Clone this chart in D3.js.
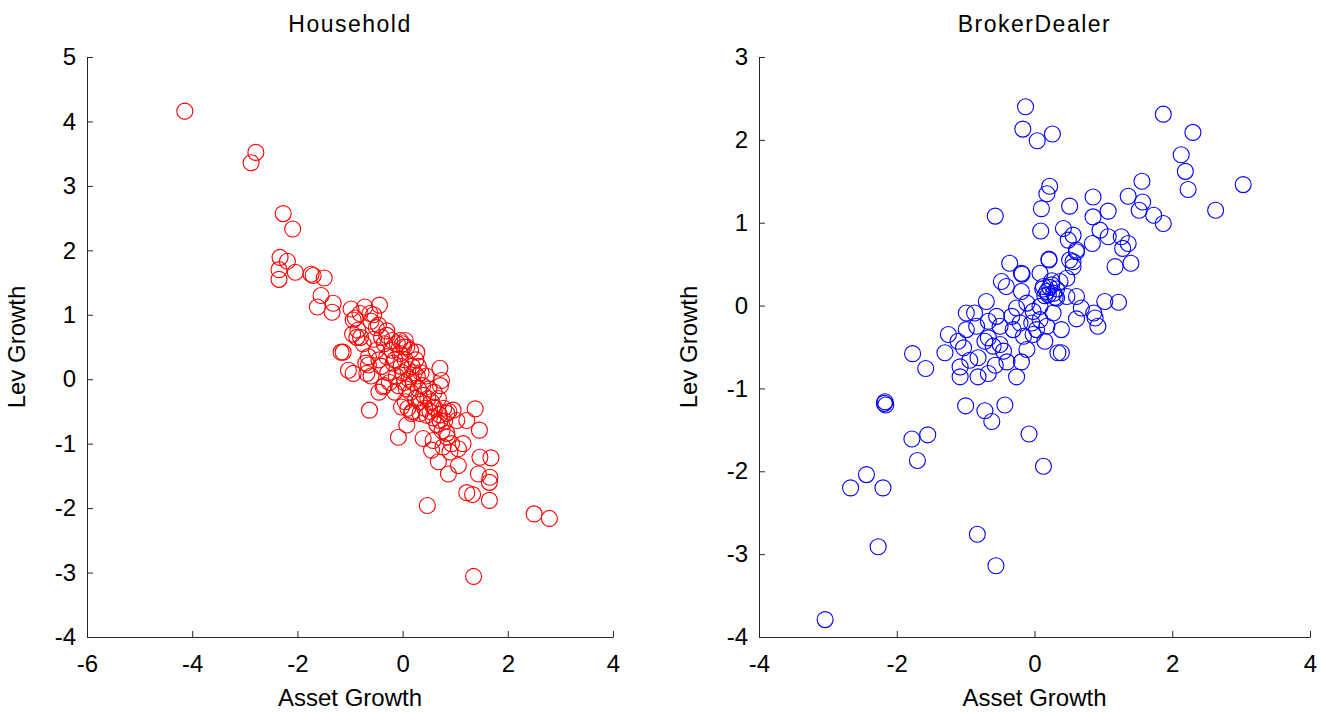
<!DOCTYPE html>
<html>
<head>
<meta charset="utf-8">
<script src="https://d3js.org/d3.v7.min.js"></script>
<style>
  body { margin: 0; background: #fff; }
  text { font-family: Arial, "Liberation Sans", sans-serif; fill: #000; }
  .domain, .tick line { stroke: #262626; }
</style>
</head>
<body>
<div id="chart"></div>
<script>
// Household: asset growth vs leverage growth
var hhAsset = [-4.14, -2.79, -2.88, -2.27, -2.09, -2.33, -2.19, -2.35, -2.04, -2.35,
  -1.74, -1.70, -1.49, -1.55, -1.62, -1.32, -1.34, -0.98, -0.72, -0.94,
  -0.81, -0.85, -0.87, -0.44, -0.62, -0.46, -1.13, -1.03, -0.94, -0.68,
  -0.65, -0.63, -0.08, -0.37, -0.30, -0.05, 0.08, 0.27, 0.71, 0.74,
  1.38, 1.22, 1.46, 0.39, 1.47, 1.68, 0.68, 1.06, 0.87, 1.44,
  1.65, 1.22, 1.33, 1.65, 0.47, 2.50, 2.79, 1.35, 0.55, 0.90,
  1.06, 1.15, 0.93, 0.77, 0.58, 0.84, 0.08, 0.33, 0.17, 0.58,
  0.84, 1.03, -0.02, 0.46, 0.71, 0.96, -0.55, -0.50, -0.45, -0.40,
  -0.35, -0.30, -0.28, -0.25, -0.20, -0.18, -0.15, -0.12, -0.10, -0.08,
  -0.05, -0.03, 0.00, 0.02, 0.03, 0.05, 0.07, 0.10, 0.12, 0.15,
  0.18, 0.20, 0.22, 0.25, 0.28, 0.30, 0.32, 0.35, 0.38, 0.40,
  0.42, 0.45, 0.48, 0.50, 0.52, 0.55, 0.58, 0.60, 0.62, 0.65,
  0.68, 0.70, 0.72, 0.75, 0.78, 0.80, 0.85, 0.88, -0.65, -0.70,
  -0.60, -0.75, -0.80, -0.90, -0.95, -0.60, -0.55, -0.50, -0.40, -0.30,
  -0.20, 0.00, 0.05, 0.25, 0.30, 0.15, -0.15, 0.05, 0.18, 0.10,
  -0.35, -0.45, -1.17, 1.66];
var hhLev = [4.16, 3.52, 3.36, 2.57, 2.33, 1.89, 1.83, 1.70, 1.66, 1.55,
  1.63, 1.61, 1.57, 1.30, 1.12, 1.18, 1.04, 1.09, 1.12, 0.92,
  1.02, 0.76, 0.65, 1.15, 1.02, 0.84, 0.42, 0.14, 0.09, 0.09,
  0.22, -0.48, -0.90, -0.12, 0.68, 0.60, 0.50, 0.42, 0.17, -0.02,
  -0.46, -0.64, -0.79, -0.92, -1.21, -1.22, -1.28, -1.34, -1.47, -1.47,
  -1.60, -1.76, -1.79, -1.88, -1.96, -2.09, -2.16, -3.06, -1.10, -1.13,
  -1.08, -1.00, -1.00, -1.05, -0.95, -0.84, -0.71, -0.53, -0.53, -0.43,
  -0.53, -0.64, -0.43, -0.56, -0.64, -0.48, 0.62, 0.45, 0.30, 0.20,
  0.55, 0.35, 0.10, -0.05, 0.45, 0.25, 0.30, 0.05, 0.55, -0.10,
  0.40, 0.20, 0.10, 0.50, -0.05, 0.30, -0.15, 0.15, 0.00, -0.20,
  0.20, -0.05, 0.10, -0.30, 0.05, -0.15, -0.35, 0.10, -0.10, -0.25,
  -0.45, 0.05, -0.30, -0.15, -0.50, -0.35, -0.60, -0.20, -0.45, -0.70,
  -0.30, -0.55, -0.10, -0.80, -0.45, -0.65, -0.90, -0.50, 0.35, 0.25,
  0.05, 0.55, 0.65, 0.95, 0.70, 0.90, 1.00, 0.80, 0.65, 0.75,
  0.60, 0.55, 0.60, 0.30, 0.20, 0.45, -0.20, -0.35, -0.50, -0.45,
  -0.10, -0.20, 0.42, -1.52];

// BrokerDealer: asset growth vs leverage growth
var bdAsset = [-0.13, -0.17, 0.04, 0.26, 1.87, 2.30, 2.13, 2.19, 2.23, 3.03,
  2.63, 1.56, 1.36, 1.57, 1.52, 1.73, 1.87, 0.22, 0.18, 0.10,
  0.51, 0.09, 0.85, 1.07, 0.85, 0.95, 1.07, 1.26, 1.36, 1.28,
  0.84, 0.42, 0.56, 0.49, 0.61, 0.56, 1.17, 1.40, 0.21, -0.36,
  -0.57, -0.19, -0.18, 0.21, 1.02, 1.22, -0.48, -0.41, -0.70, -0.87,
  -0.19, 0.08, 0.13, 0.25, 0.37, 0.47, 0.56, 0.51, 0.61, 0.20,
  0.32, 0.47, 0.61, 0.68, 0.61, 0.88, 0.92, 0.39, 0.39, 0.15,
  0.27, 0.08, -0.02, -0.11, -0.26, -0.33, -0.21, -0.04, 0.08, 0.18,
  -0.55, -0.50, -0.31, -0.16, -0.02, -0.67, -0.84, -0.99, -1.25, -1.11,
  -1.03, -1.30, -1.77, -1.58, -0.72, -0.60, -0.50, -0.45, -0.82, -0.94,
  -1.08, -1.08, -0.82, -0.67, -0.57, -0.40, -0.19, -0.26, -0.11, 0.03,
  -0.99, -0.67, -2.17, -2.18, -2.16, -1.00, -0.72, -0.43, -0.62, -0.08,
  -1.78, -1.55, -1.70, 0.13, -2.44, -2.67, -2.20, -0.83, -2.27, -0.56,
  -3.04, 0.12, 0.18, 0.22, 0.28, 0.32, 0.25, 0.15, 0.30, 0.34,
  0.86];
var bdLev = [2.40, 2.13, 1.99, 2.07, 2.31, 2.09, 1.82, 1.62, 1.40, 1.46,
  1.15, 1.50, 1.32, 1.25, 1.15, 1.09, 0.99, 1.44, 1.35, 1.17,
  1.20, 0.90, 1.31, 1.14, 1.07, 0.91, 0.83, 0.83, 0.75, 0.69,
  0.75, 0.93, 0.85, 0.79, 0.65, 0.53, 0.47, 0.51, 0.55, 0.51,
  1.08, 0.39, 0.38, 0.56, 0.05, 0.04, 0.29, 0.23, 0.05, -0.09,
  0.17, 0.39, 0.23, 0.25, 0.29, 0.33, 0.47, 0.55, 0.67, 0.13,
  0.09, 0.11, 0.11, -0.03, -0.16, -0.15, -0.25, -0.57, -0.29, -0.43,
  -0.09, -0.01, -0.07, 0.03, -0.03, -0.13, -0.21, -0.21, -0.17, -0.25,
  -0.13, -0.25, -0.29, -0.37, -0.35, -0.39, -0.25, -0.29, -0.35, -0.43,
  -0.51, -0.57, -0.58, -0.76, -0.43, -0.49, -0.47, -0.55, -0.63, -0.66,
  -0.74, -0.86, -0.86, -0.82, -0.72, -0.68, -0.68, -0.86, -0.53, -0.29,
  -0.09, -0.19, -1.16, -1.18, -1.20, -1.21, -1.27, -1.20, -1.40, -1.55,
  -1.61, -1.56, -1.87, -1.94, -2.04, -2.20, -2.20, -2.76, -2.91, -3.14,
  -3.79, 0.20, 0.17, 0.22, 0.15, 0.20, 0.30, 0.12, 0.10, -0.57,
  -0.09];

// Tick values
var hhXTicks = [-6, -4, -2, 0, 2, 4];
var hhYTicks = [-4, -3, -2, -1, 0, 1, 2, 3, 4, 5];
var bdXTicks = [-4, -2, 0, 2, 4];
var bdYTicks = [-4, -3, -2, -1, 0, 1, 2, 3];

var svgWidth = 1321;
var svgHeight = 712;

var svg = d3.select("#chart")
    .append("svg")
    .attr("width", svgWidth)
    .attr("height", svgHeight);

// plain hyphen minus, no decimals (MATLAB style)
var fmt = d => String(d);

// Draws one scatter panel
function drawPanel(opts) {
    var x = d3.scaleLinear().domain(opts.xDomain).range([opts.left, opts.right]);
    var y = d3.scaleLinear().domain(opts.yDomain).range([opts.bottom, opts.top]);

    var g = svg.append("g");

    // x-axis (ticks pointing inward)
    var xAxis = g.append("g")
        .attr("transform", `translate(0, ${opts.bottom})`)
        .call(d3.axisBottom(x).tickValues(opts.xTicks).tickFormat(fmt)
            .tickSizeInner(-6).tickSizeOuter(0).tickPadding(18));
    xAxis.selectAll("text").attr("font-size", "24px").attr("font-family", "Arial, 'Liberation Sans', sans-serif");

    // y-axis
    var yAxis = g.append("g")
        .attr("transform", `translate(${opts.left}, 0)`)
        .call(d3.axisLeft(y).tickValues(opts.yTicks).tickFormat(fmt)
            .tickSizeInner(-6).tickSizeOuter(0).tickPadding(11));
    yAxis.selectAll("text").attr("font-size", "24px").attr("font-family", "Arial, 'Liberation Sans', sans-serif");

    // circles
    var pts = opts.xs.map((v, i) => ({ x: v, y: opts.ys[i] }));
    g.selectAll("circle")
        .data(pts)
        .enter()
        .append("circle")
        .attr("cx", d => x(d.x))
        .attr("cy", d => y(d.y))
        .attr("r", 8)
        .attr("fill", "none")
        .attr("stroke", opts.color)
        .attr("stroke-width", 1.1);

    // title
    g.append("text")
        .attr("x", (opts.left + opts.right) / 2)
        .attr("y", 32)
        .attr("text-anchor", "middle")
        .attr("font-size", "23px")
        .attr("letter-spacing", "1.5px")
        .text(opts.title);

    // x label
    g.append("text")
        .attr("x", (opts.left + opts.right) / 2)
        .attr("y", 706)
        .attr("text-anchor", "middle")
        .attr("font-size", "24px")
        .text("Asset Growth");

    // y label
    g.append("text")
        .attr("transform", `translate(${opts.left - 62}, ${(opts.top + opts.bottom) / 2}) rotate(-90)`)
        .attr("text-anchor", "middle")
        .attr("font-size", "24px")
        .text("Lev Growth");
}

drawPanel({
    title: "Household", xs: hhAsset, ys: hhLev, color: "#ff0000",
    xDomain: [-6, 4], yDomain: [-4, 5], xTicks: hhXTicks, yTicks: hhYTicks,
    left: 87, right: 613, top: 57, bottom: 637
});

drawPanel({
    title: "BrokerDealer", xs: bdAsset, ys: bdLev, color: "#0000ff",
    xDomain: [-4, 4], yDomain: [-4, 3], xTicks: bdXTicks, yTicks: bdYTicks,
    left: 759, right: 1310, top: 57, bottom: 637
});
</script>
</body>
</html>
